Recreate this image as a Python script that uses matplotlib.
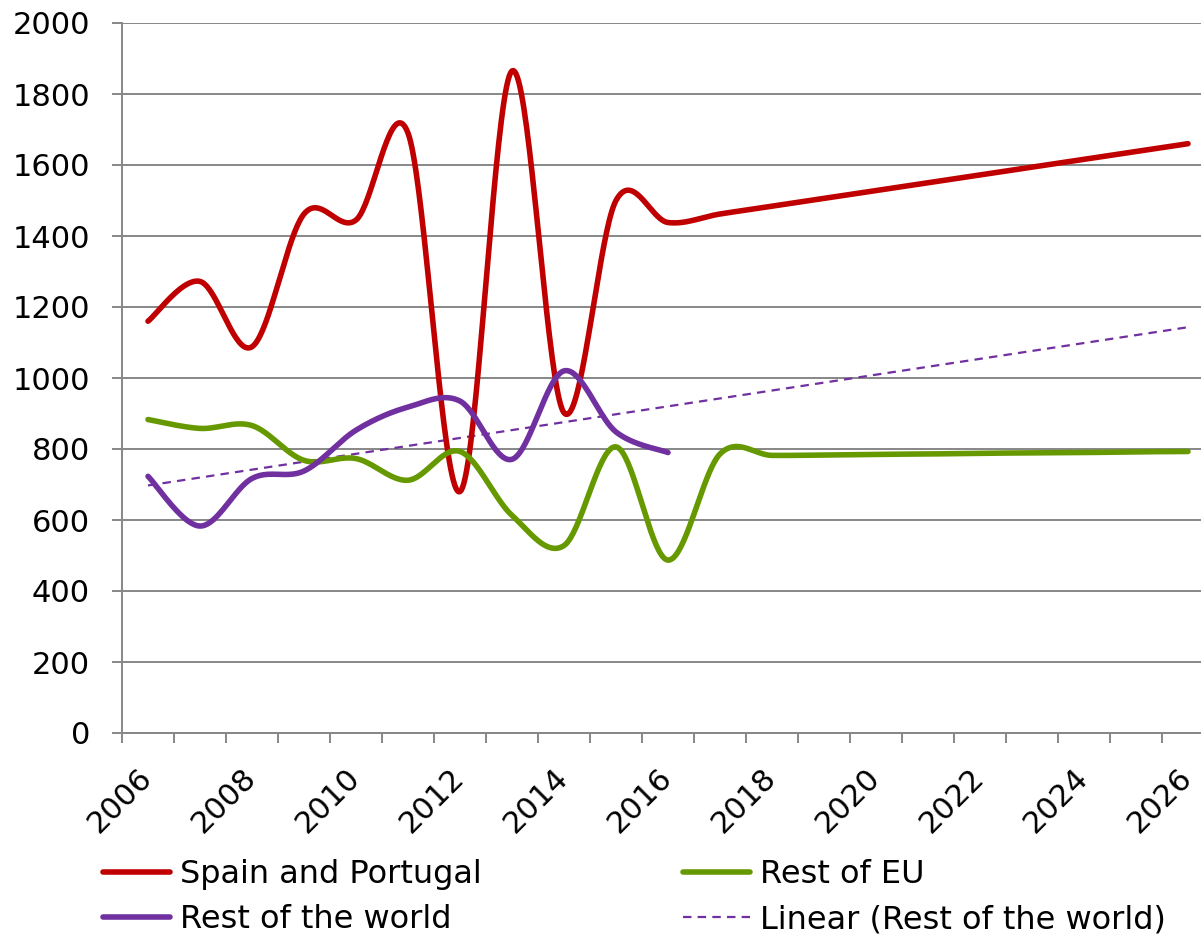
import numpy as np
import matplotlib
matplotlib.use("Agg")
import matplotlib.pyplot as plt
from matplotlib.ticker import FixedLocator, NullFormatter

years = list(range(2006, 2027))
spain_portugal = [1160, 1272, 1088, 1462, 1445, 1690, 680, 1865, 902, 1500, 1438,
                  1462, 1484, 1506, 1528, 1550, 1572, 1594, 1616, 1638, 1660]
rest_of_eu = [883, 858, 866, 768, 773, 712, 793, 613, 528, 806, 487,
              786, 782, 783, 785, 786, 788, 789, 790, 792, 793]
rest_of_world = [723, 583, 717, 738, 853, 918, 935, 771, 1020, 848, 790]

RED = "#C00000"
GREEN = "#669900"
PURPLE = "#7030A0"
GRAY = "#878787"
FS = 22
LFS = 23

plt.rcParams["font.family"] = ["DejaVu Sans"]


def smooth(xs, ys, n=40):
    """Excel-like smoothed line: Catmull-Rom style cubic Bezier segments."""
    P = np.column_stack([xs, ys]).astype(float)
    m = len(P)
    out = [P[0]]
    t = np.linspace(0, 1, n)[1:, None]
    for i in range(m - 1):
        p0 = P[i - 1] if i > 0 else P[i]
        p1 = P[i]
        p2 = P[i + 1]
        p3 = P[i + 2] if i + 2 < m else P[i + 1]
        c1 = p1 + (p2 - p0) / 6.0
        c2 = p2 - (p3 - p1) / 6.0
        seg = ((1 - t) ** 3) * p1 + 3 * ((1 - t) ** 2) * t * c1 + 3 * (1 - t) * t ** 2 * c2 + t ** 3 * p2
        out.extend(seg)
    return np.array(out)


W, H = 1201, 935
fig = plt.figure(figsize=(W / 100, H / 100), dpi=100)
left, right, top, bottom = 122, 1214, 23, 733
ax = fig.add_axes([left / W, (H - bottom) / H, (right - left) / W, (bottom - top) / H])

idx = np.arange(len(years))

for vals, col, lab in [(spain_portugal, RED, "Spain and Portugal"),
                       (rest_of_eu, GREEN, "Rest of EU"),
                       (rest_of_world, PURPLE, "Rest of the world")]:
    pts = smooth(idx[:len(vals)], vals)
    ax.plot(pts[:, 0], pts[:, 1], color=col, lw=4, solid_capstyle="round",
            solid_joinstyle="round", label=lab, zorder=3)

# Linear trendline of Rest of the world, extended over the full axis
wx = idx[:len(rest_of_world)]
slope, intercept = np.polyfit(wx, rest_of_world, 1)
tx = np.array([idx[0], idx[-1]])
ax.plot(tx, slope * tx + intercept, color=PURPLE, lw=1.6, dashes=(3.8, 2.8),
        label="Linear (Rest of the world)", zorder=2)

ax.set_xlim(-0.5, len(years) - 0.5)
ax.set_ylim(0, 2000)
ax.set_yticks(np.arange(0, 2001, 200))
ax.yaxis.grid(True, color=GRAY, lw=1.4)
ax.set_axisbelow(True)

for s in ("top", "right"):
    ax.spines[s].set_visible(False)
for s in ("left", "bottom"):
    ax.spines[s].set_color(GRAY)
    ax.spines[s].set_linewidth(1.4)

ax.tick_params(axis="y", direction="out", length=7.5, width=1.4, color=GRAY,
               labelsize=FS, pad=15.5)

# category boundary tick marks, labels on every second category centre
ax.xaxis.set_major_locator(FixedLocator(np.arange(-0.5, len(years), 1.0)))
ax.xaxis.set_major_formatter(NullFormatter())
ax.tick_params(axis="x", which="major", direction="out", length=7.5, width=1.4, color=GRAY)
lab_pos = idx[::2]
ax.set_xticks(lab_pos, minor=True)
ax.set_xticklabels([str(years[i]) for i in lab_pos], minor=True)
ax.tick_params(axis="x", which="minor", length=0, labelsize=FS, pad=29)
for lbl in ax.get_xticklabels(minor=True):
    lbl.set_rotation(45)
    lbl.set_ha("right")
    lbl.set_va("center")
    lbl.set_rotation_mode("anchor")

handles, labels = ax.get_legend_handles_labels()
order = [0, 2, 1, 3]
fig.legend([handles[i] for i in order], [labels[i] for i in order],
           loc="upper left", bbox_to_anchor=(103 / W, 1 - 859 / H), ncol=2,
           frameon=False, fontsize=LFS, handlelength=2.1, handletextpad=0.31,
           columnspacing=6.3, labelspacing=0.45, borderpad=0, borderaxespad=0)

fig.savefig("out.png", dpi=100)
